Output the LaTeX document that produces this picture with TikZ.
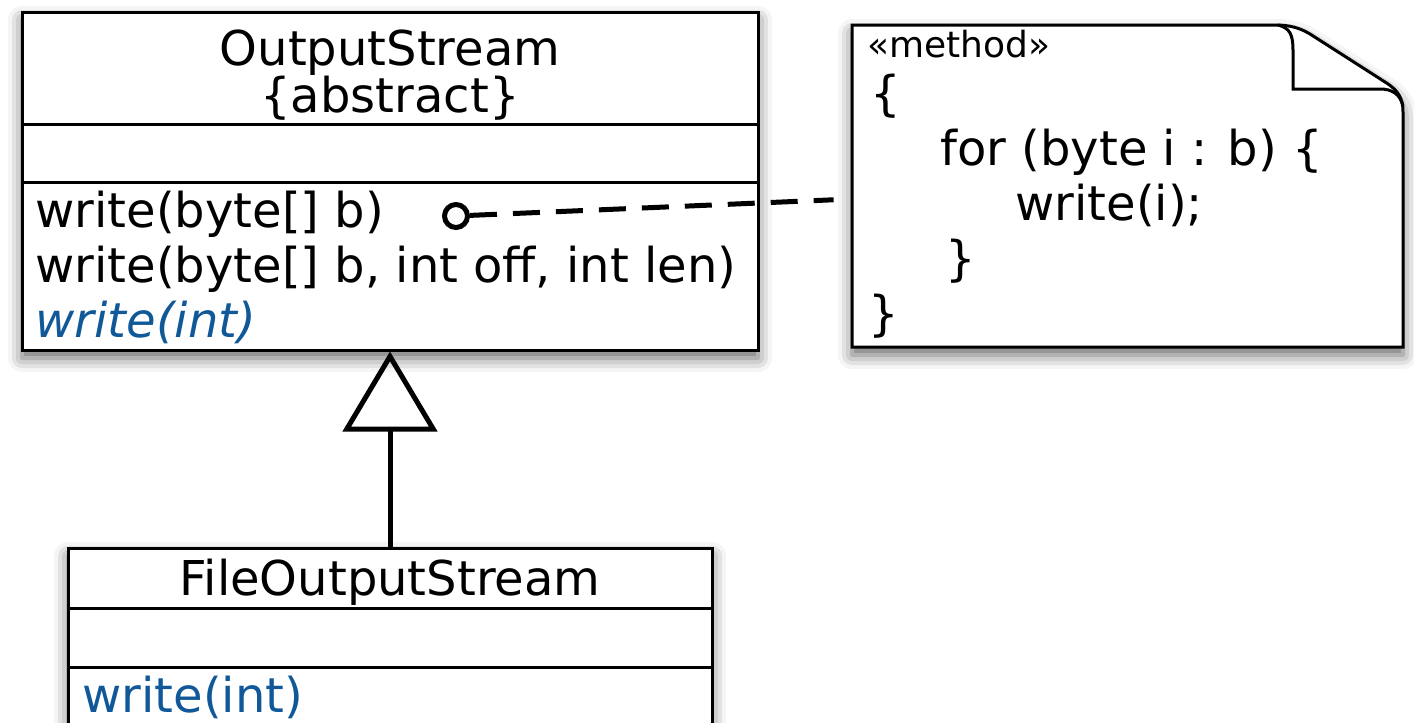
\documentclass[tikz,border=0pt]{standalone}
\usepackage{fontspec}
\setmainfont{DejaVu Sans}
\usetikzlibrary{arrows.meta,shadows.blur}
\definecolor{opblue}{RGB}{16,88,152}
\tikzset{
  shade/.style={blur shadow={shadow xshift=0pt, shadow yshift=-4pt, shadow blur radius=7pt, shadow opacity=60}},
  umlbox/.style={draw, line width=1.5pt, fill=white, inner sep=0pt, shade},
  divider/.style={line width=1.5pt},
  txt/.style={inner sep=0pt, font=\fontsize{24}{28}\selectfont},
  stereo/.style={inner sep=0pt, font=\fontsize{18}{22}\selectfont},
  inherit/.style={line width=2.5pt, -{Triangle[open, length=40pt, width=47pt]}},
  notelink/.style={line width=2.5pt, dash pattern=on 13.5pt off 8pt, shorten >=9pt}
}
\begin{document}
\begin{tikzpicture}[x=0.5pt, y=-0.5pt]
\useasboundingbox (0,0) rectangle (1414,723);

% OutputStream
\node[umlbox, minimum width=368pt, minimum height=169pt] (os) at (390,181) {};
\draw[divider] (22,124) -- (758,124);
\draw[divider] (22,182) -- (758,182);
\node[txt, anchor=base] (osname) at (390,65) {OutputStream};
\node[txt, anchor=base] (osabs) at (390,112) {\{abstract\}};
\node[txt, anchor=base west] (m1) at (35,227) {write(byte[] b)};
\node[txt, anchor=base west] (m2) at (35,282) {write(byte[] b, int off, int len)};
\node[txt, anchor=base west, text=opblue, font=\fontsize{24}{28}\selectfont\itshape] (m3) at (35,337) {write(int)};

% FileOutputStream
\node[umlbox, minimum width=322pt, minimum height=116pt] (fos) at (390,664) {};
\draw[divider] (68,608) -- (712,608);
\draw[divider] (68,667) -- (712,667);
\node[txt, anchor=base] (fosname) at (390,595) {FileOutputStream};
\node[txt, anchor=base west, text=opblue] (fm1) at (82,712) {write(int)};

\draw[inherit] (fos.north) -- (os.south);

% note
\node[minimum width=275.5pt, minimum height=161pt, inner sep=0pt] (note) at (1127.5,186) {};
\draw[line width=1.5pt, fill=white, shade] (852,25) -- (1275,25)
  .. controls (1290,25) and (1300,28) .. (1310,34) -- (1385,82)
  .. controls (1398,90) and (1403,98) .. (1403,112) -- (1403,347) -- (852,347) -- cycle;
\draw[line width=1.5pt] (1278,25) .. controls (1290,28) and (1293,35) .. (1293,50)
  -- (1293,89) -- (1380,89) .. controls (1392,89) and (1400,94) .. (1403,106);
\node[stereo, anchor=base west] (st) at (867,57) {«method»};
\node[txt, anchor=base west] (c1) at (870,110) {\{};
\node[txt, anchor=base west] (c2) at (940,165) {for (byte i : b) \{};
\node[txt, anchor=base west] (c3) at (1015,220) {write(i);};
\node[txt, anchor=base west] (c4) at (945,275) {\}};
\node[txt, anchor=base west] (c5) at (868,330) {\}};

% link from method to note
\node[draw, circle, line width=2.5pt, minimum size=11.5pt, inner sep=0pt, fill=white] (ball) at (456,216) {};
\coordinate (hook) at (note.west |- 0,199);
\draw[notelink] (ball) -- (hook);
\end{tikzpicture}
\end{document}
